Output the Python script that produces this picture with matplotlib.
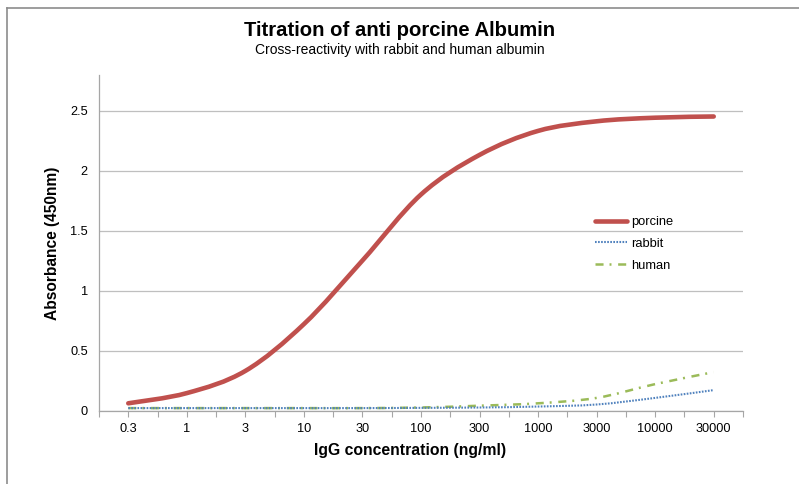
import matplotlib
matplotlib.use("Agg")
import matplotlib.pyplot as plt
from matplotlib.path import Path
from matplotlib.patches import PathPatch
from matplotlib.lines import Line2D
import numpy as np

plt.rcParams['font.family'] = ['Liberation Sans', 'DejaVu Sans']
plt.rcParams['lines.scale_dashes'] = False

categories = ["0.3", "1", "3", "10", "30", "100", "300", "1000", "3000", "10000", "30000"]
porcine = [0.06, 0.145, 0.33, 0.72, 1.25, 1.80, 2.13, 2.33, 2.41, 2.44, 2.45]
rabbit = [0.02, 0.02, 0.02, 0.02, 0.02, 0.022, 0.025, 0.033, 0.05, 0.105, 0.17]
human = [0.02, 0.02, 0.02, 0.02, 0.02, 0.025, 0.04, 0.06, 0.105, 0.22, 0.32]
series_names = ["porcine", "rabbit", "human"]

C_POR = "#C0504D"
C_RAB = "#4F81BD"
C_HUM = "#9BBB59"

fig = plt.figure(figsize=(7.99, 4.84), dpi=100)
ax = fig.add_axes([99/799, 1-410.5/484, (743-99)/799, (410.5-74.5)/484])


def smooth_path(xs, ys):
    pts = np.column_stack([xs, ys]).astype(float)
    n = len(pts)
    verts = [pts[0]]
    codes = [Path.MOVETO]
    for i in range(n - 1):
        p0 = pts[i - 1] if i > 0 else pts[i]
        p1 = pts[i]
        p2 = pts[i + 1]
        p3 = pts[i + 2] if i + 2 < n else pts[i + 1]
        c1 = p1 + (p2 - p0) / 6.0
        c2 = p2 - (p3 - p1) / 6.0
        verts += [c1, c2, p2]
        codes += [Path.CURVE4] * 3
    return Path(verts, codes)


x = np.arange(len(categories))
styles = [
    dict(color=C_POR, lw=3.3, ls='-', capstyle='round'),
    dict(color=C_RAB, lw=1.5, ls=(0, (1.2, 1.0)), capstyle='butt'),
    dict(color=C_HUM, lw=1.8, ls=(0, (5.8, 4.3, 1.4, 4.8)), capstyle='butt'),
]
data = [porcine, rabbit, human]
for k in [2, 1, 0]:
    st = styles[k]
    patch = PathPatch(smooth_path(x, data[k]), fill=False, edgecolor=st['color'],
                      lw=st['lw'], linestyle=st['ls'], capstyle=st['capstyle'],
                      zorder=3 + (k == 0))
    ax.add_patch(patch)

ax.set_xlim(-0.5, len(categories) - 0.5)
ax.set_ylim(0, 2.8)
ax.set_yticks([0, 0.5, 1, 1.5, 2, 2.5])
ax.set_yticklabels(["0", "0.5", "1", "1.5", "2", "2.5"])
ax.set_xticks(x)
ax.set_xticklabels(categories)
ax.set_xticks(np.arange(-0.5, len(categories), 1.0), minor=True)
ax.tick_params(axis='x', which='both', length=4, width=0.8, color='#A6A6A6',
               labelsize=9.2, pad=5, labelcolor='black')
ax.tick_params(axis='y', which='both', length=0, labelsize=9.2, pad=8, labelcolor='black')
ax.yaxis.grid(True, color='#BFBFBF', lw=0.9)
ax.set_axisbelow(True)
for s in ['top', 'right']:
    ax.spines[s].set_visible(False)
for s in ['left', 'bottom']:
    ax.spines[s].set_color('#A6A6A6')
    ax.spines[s].set_linewidth(0.9)

fig.text(0.5, 1 - 30/484, "Titration of anti porcine Albumin", ha='center', va='center',
         fontsize=14.6, fontweight='bold')
fig.text(0.5, 1 - 50/484, "Cross-reactivity with rabbit and human albumin", ha='center',
         va='center', fontsize=10)
fig.text(410/799, 1 - 451/484, "IgG concentration (ng/ml)", ha='center', va='center',
         fontsize=11.3, fontweight='bold')
fig.text(53/799, 1 - 243/484, "Absorbance (450nm)", ha='center', va='center',
         rotation=90, fontsize=11.2, fontweight='bold')

handles = [Line2D([], [], color=st['color'], lw=st['lw'], linestyle=st['ls'],
                  solid_capstyle='round', dash_capstyle='butt') for st in styles]
fig.legend(handles, series_names, loc='upper left',
           bbox_to_anchor=(595/799, 1 - 216/484), frameon=False, fontsize=9.3,
           handlelength=2.5, handletextpad=0.3, labelspacing=0.75, borderpad=0,
           borderaxespad=0)

# chart border (top and left)
fig.add_artist(Line2D([7/799, 1], [1 - 8/484, 1 - 8/484], color='#8C8C8C', lw=1.2))
fig.add_artist(Line2D([7/799, 7/799], [0, 1 - 8/484], color='#8C8C8C', lw=1.2))

fig.savefig("out.png", dpi=100)
